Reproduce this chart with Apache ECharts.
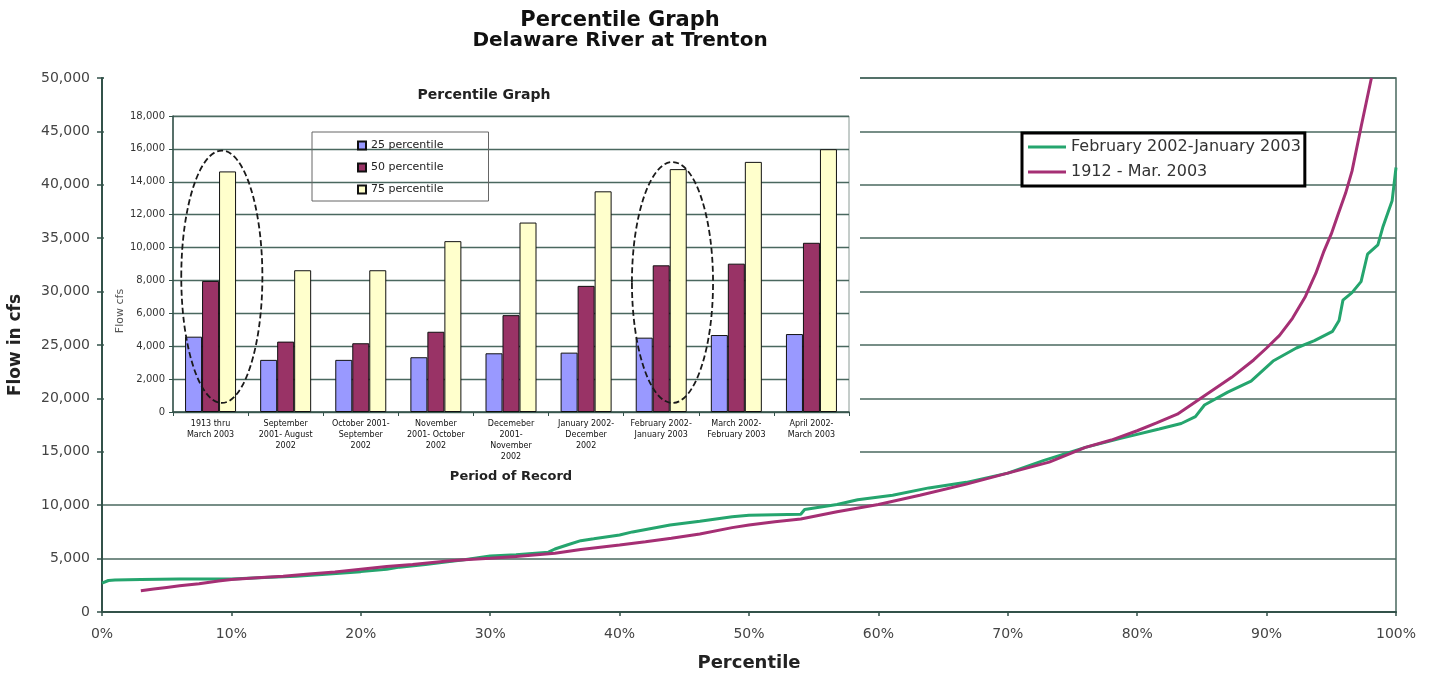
<!DOCTYPE html>
<html><head><meta charset="utf-8">
<script src="https://cdn.jsdelivr.net/npm/echarts@6/dist/echarts.min.js"></script>
<style>html,body{margin:0;padding:0;background:#fff}#c{width:1436px;height:680px}</style>
</head><body><div id="c"></div>
<script>
// ---- Main chart data (percentile %, flow cfs) ----
const pctGreen  = [0, 0.5, 1, 3, 6, 10, 13, 15, 17, 20, 22, 23, 25, 26.7, 28, 30, 32, 33, 34.5, 35, 36, 37, 38, 40, 41, 43.9, 46.2, 48.7, 50, 52, 54, 54.3, 56.8, 58.4, 61.1, 63.9, 66.8, 70, 72.8, 76, 78.8, 81.7, 83.4, 84.5, 85.2, 87, 88.8, 90.5, 92.3, 93.7, 95.1, 95.6, 95.9, 96.6, 97.3, 97.8, 98.6, 99, 99.4, 99.7, 100];
const flowGreen = [2700, 2950, 3000, 3050, 3100, 3100, 3250, 3350, 3500, 3780, 4000, 4200, 4450, 4710, 4900, 5250, 5350, 5450, 5600, 5900, 6300, 6680, 6850, 7210, 7500, 8150, 8500, 8925, 9050, 9100, 9150, 9600, 10070, 10517, 10930, 11620, 12140, 13000, 14200, 15410, 16280, 17140, 17650, 18300, 19380, 20590, 21620, 23500, 24720, 25410, 26280, 27300, 29200, 29900, 30930, 33500, 34380, 36100, 37480, 38500, 41620];
const pctMagenta  = [3, 4, 5, 6, 7.5, 9, 10, 12, 14, 16, 18, 20, 22, 24, 26.7, 28, 30, 32, 35, 37, 40, 42, 44, 46.2, 48.7, 50, 52, 54, 56.8, 60, 63.2, 66.8, 70, 73.2, 76, 78, 80, 81.5, 83.1, 85.2, 87.3, 89, 90, 91, 92, 93, 93.8, 94.4, 95, 95.5, 96.1, 96.6, 97.3, 97.7, 98.1];
const flowMagenta = [2000, 2150, 2300, 2450, 2650, 2900, 3050, 3200, 3350, 3550, 3750, 4000, 4250, 4450, 4775, 4900, 5030, 5200, 5500, 5850, 6270, 6580, 6900, 7310, 7900, 8150, 8450, 8700, 9380, 10070, 10930, 11970, 13000, 14030, 15410, 16100, 16970, 17700, 18520, 20240, 21970, 23600, 24720, 25900, 27500, 29550, 31700, 33690, 35400, 37140, 39200, 41280, 45410, 47700, 50000];
const mainSeriesNames = ['February 2002-January 2003', '1912 - Mar. 2003'];

// ---- Inset bar chart data ----
const insetCategories = [
  '1913 thru\nMarch 2003',
  'September\n2001- August\n2002',
  'October 2001-\nSeptember\n2002',
  'November\n2001- October\n2002',
  'Decemeber\n2001-\nNovember\n2002',
  'January 2002-\nDecember\n2002',
  'February 2002-\nJanuary 2003',
  'March 2002-\nFebruary 2003',
  'April 2002-\nMarch 2003'
];
const p25 = [4580, 3170, 3170, 3330, 3570, 3610, 4520, 4680, 4740];
const p50 = [7970, 4280, 4180, 4880, 5890, 7670, 8920, 9020, 10290];
const p75 = [14630, 8620, 8620, 10390, 11520, 13420, 14770, 15210, 15980];
const insetSeriesNames = ['25 percentile', '50 percentile', '75 percentile'];
// circled groups (category index, value extent of the circle)
const circledCats = [0, 6];
const circledTop = [15900, 15200];
const circledBottom = [550, 550];

const FONT = 'DejaVu Sans';
const GRID = '#4a685f';
const AXIS = '#33524a';
const GREEN = '#25a56e';
const MAGENTA = '#a52f74';
const BARCOL = ['#9999ff', '#993366', '#ffffcc'];

const chart = echarts.init(document.getElementById('c'), null, {renderer: 'canvas'});
const fmt = v => Number(v).toLocaleString('en-US');

const insetRect = {type: 'rect', id: 'insetBg', z: 10, silent: true,
  shape: {x: 104, y: 76, width: 756, height: 420}, style: {fill: '#ffffff', stroke: null}};

const option = {
  backgroundColor: '#fff',
  animation: false,
  title: [
    {text: 'Percentile Graph', left: 620, top: 10, padding: 0, textAlign: 'center',
     textStyle: {fontFamily: FONT, fontWeight: 'bold', fontSize: 21, color: '#111'}},
    {text: 'Delaware River at Trenton', left: 620, top: 31, padding: 0, textAlign: 'center',
     textStyle: {fontFamily: FONT, fontWeight: 'bold', fontSize: 20, color: '#111'}},
    {text: 'Percentile Graph', left: 484, top: 88, padding: 0, textAlign: 'center', z: 14,
     textStyle: {fontFamily: FONT, fontWeight: 'bold', fontSize: 14, color: '#222'}}
  ],
  legend: [
    {data: mainSeriesNames, left: 1022, top: 133, orient: 'vertical', padding: [6, 4, 6, 6], itemGap: 9,
     itemWidth: 38, itemHeight: 3, icon: 'rect', borderColor: '#000', borderWidth: 3, backgroundColor: '#fff',
     textStyle: {fontFamily: FONT, fontSize: 16, color: '#333'}},
    {data: insetSeriesNames, left: 312, top: 132, orient: 'vertical', padding: [8, 45, 6, 45], itemGap: 11,
     itemWidth: 8, itemHeight: 8, icon: 'rect', borderColor: '#666', borderWidth: 1, z: 14,
     textStyle: {fontFamily: FONT, fontSize: 11, color: '#222'}}
  ],
  grid: [
    {left: 102, right: 40, top: 78, bottom: 68, show: true, borderColor: GRID, borderWidth: 1.5,
     backgroundColor: 'transparent', outerBoundsMode: 'none'},
    {left: 173, right: 587, top: 116, bottom: 268, show: true, borderColor: '#8a9a95', borderWidth: 1,
     backgroundColor: 'transparent', z: 11, outerBoundsMode: 'none'}
  ],
  xAxis: [
    {gridIndex: 0, type: 'value', min: 0, max: 100, interval: 10,
     name: 'Percentile', nameLocation: 'middle', nameGap: 42,
     nameTextStyle: {fontFamily: FONT, fontWeight: 'bold', fontSize: 18, color: '#222'},
     axisLine: {show: true, lineStyle: {color: AXIS, width: 2}},
     axisTick: {show: true, length: 4, lineStyle: {color: AXIS, width: 1.5}},
     axisLabel: {formatter: '{value}%', margin: 15, fontFamily: FONT, fontSize: 14, color: '#444'},
     splitLine: {show: false}},
    {gridIndex: 1, type: 'category', data: insetCategories, z: 12,
     name: 'Period of Record', nameLocation: 'middle', nameGap: 58,
     nameTextStyle: {fontFamily: FONT, fontWeight: 'bold', fontSize: 13, color: '#222'},
     axisLine: {show: true, lineStyle: {color: AXIS, width: 1.5}},
     axisTick: {show: true, length: 4, lineStyle: {color: AXIS}},
     axisLabel: {interval: 0, margin: 6, fontFamily: FONT, fontSize: 8, lineHeight: 11, color: '#111'},
     splitLine: {show: false}}
  ],
  yAxis: [
    {gridIndex: 0, type: 'value', min: 0, max: 50000, interval: 5000,
     name: 'Flow in cfs', nameLocation: 'middle', nameGap: 78,
     nameTextStyle: {fontFamily: FONT, fontWeight: 'bold', fontSize: 17, color: '#222'},
     axisLine: {show: true, lineStyle: {color: AXIS, width: 2}},
     axisTick: {show: true, length: 5, lineStyle: {color: AXIS, width: 1.5}},
     axisLabel: {formatter: fmt, margin: 12, fontFamily: FONT, fontSize: 14, color: '#444'},
     splitLine: {show: true, lineStyle: {color: GRID, width: 1.5}}},
    {gridIndex: 1, type: 'value', min: 0, max: 18000, interval: 2000, z: 12,
     name: 'Flow cfs', nameLocation: 'middle', nameGap: 41,
     nameTextStyle: {fontFamily: FONT, fontSize: 11, color: '#555', padding: [0, 94, 0, 0]},
     axisLine: {show: true, lineStyle: {color: AXIS, width: 1.5}},
     axisTick: {show: true, length: 4, lineStyle: {color: AXIS}},
     axisLabel: {formatter: fmt, margin: 8, fontFamily: FONT, fontSize: 10, color: '#333'},
     splitLine: {show: true, lineStyle: {color: GRID, width: 1.3}}}
  ],
  series: [
    {name: mainSeriesNames[0], type: 'line', xAxisIndex: 0, yAxisIndex: 0, z: 2,
     data: pctGreen.map((p, i) => [p, flowGreen[i]]), symbol: 'none',
     lineStyle: {color: GREEN, width: 3}, itemStyle: {color: GREEN}},
    {name: mainSeriesNames[1], type: 'line', xAxisIndex: 0, yAxisIndex: 0, z: 3,
     data: pctMagenta.map((p, i) => [p, flowMagenta[i]]), symbol: 'none',
     lineStyle: {color: MAGENTA, width: 3}, itemStyle: {color: MAGENTA}},
    {name: insetSeriesNames[0], type: 'bar', xAxisIndex: 1, yAxisIndex: 1, z: 13, data: p25,
     barWidth: 17, barGap: '0%', itemStyle: {color: BARCOL[0], borderColor: '#111', borderWidth: 1}},
    {name: insetSeriesNames[1], type: 'bar', xAxisIndex: 1, yAxisIndex: 1, z: 13, data: p50,
     barWidth: 17, barGap: '0%', itemStyle: {color: BARCOL[1], borderColor: '#111', borderWidth: 1}},
    {name: insetSeriesNames[2], type: 'bar', xAxisIndex: 1, yAxisIndex: 1, z: 13, data: p75,
     barWidth: 17, barGap: '0%', itemStyle: {color: BARCOL[2], borderColor: '#111', borderWidth: 1}}
  ],
  graphic: {elements: [insetRect]}
};
chart.setOption(option);

// dashed ellipses around highlighted groups, positioned through the inset axes
const finder = {gridIndex: 1};
const c0 = chart.convertToPixel(finder, [0, 0]);
const c1 = chart.convertToPixel(finder, [1, 0]);
const bandW = c1[0] - c0[0];
const ellipses = circledCats.map((c, i) => {
  const t = chart.convertToPixel(finder, [c, circledTop[i]]);
  const b = chart.convertToPixel(finder, [c, circledBottom[i]]);
  return {type: 'ellipse', id: 'ell' + i, z: 15, silent: true,
    shape: {cx: t[0] + bandW * 0.15, cy: (t[1] + b[1]) / 2, rx: bandW * 0.54, ry: (b[1] - t[1]) / 2},
    style: {fill: 'none', stroke: '#1a1a1a', lineWidth: 1.8, lineDash: [6, 3]}};
});
chart.setOption({graphic: {elements: [insetRect].concat(ellipses)}});
</script>
</body></html>
